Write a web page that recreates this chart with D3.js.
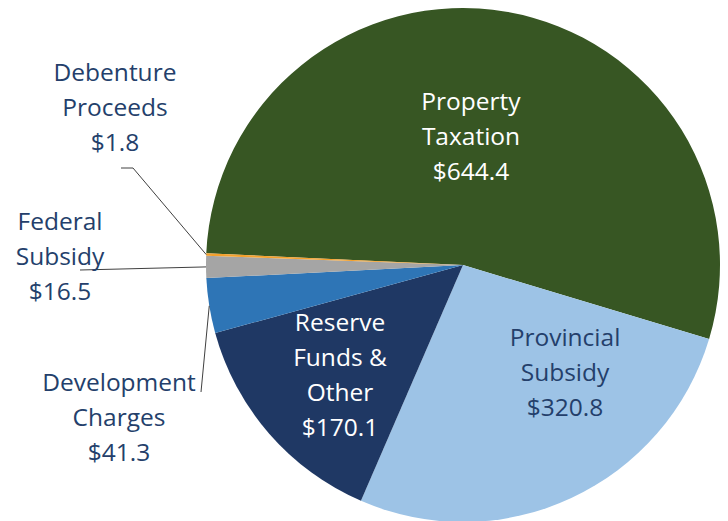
<!DOCTYPE html>
<html><head><meta charset="utf-8">
<script src="https://cdn.jsdelivr.net/npm/d3@7"></script>
<style>body{margin:0;background:#fff}svg{display:block}</style>
</head><body>
<svg id="chart" width="728" height="521"></svg>
<script>
const categories = ["Property Taxation","Provincial Subsidy","Reserve Funds & Other","Development Charges","Federal Subsidy","Debenture Proceeds"];
const values = [644.4, 320.8, 170.1, 41.3, 16.5, 1.8];
const labelLines = [["Property","Taxation","$644.4"],["Provincial","Subsidy","$320.8"],["Reserve","Funds &","Other","$170.1"],["Development","Charges","$41.3"],["Federal","Subsidy","$16.5"],["Debenture","Proceeds","$1.8"]];
const colors = ["#375623","#9DC3E6","#1F3864","#2E75B6","#A5A5A5","#F4A12D"];

// layout (separate from data)
const cx = 463, cy = 265, R = 257;
const startDeg = -87.4;
const labelPos = [
  {x:471, y:101, color:"#fff"},
  {x:565, y:337, color:"#243F6B"},
  {x:340, y:322, color:"#fff"},
  {x:119, y:382, color:"#243F6B"},
  {x:60,  y:221, color:"#243F6B"},
  {x:115, y:72,  color:"#243F6B"}
];
const lineH = 35;

const svg = d3.select("#chart");
const g = svg.append("g").attr("transform", `translate(${cx},${cy})`);
const pie = d3.pie().sort(null).value(d => d)
  .startAngle(startDeg*Math.PI/180).endAngle(startDeg*Math.PI/180 + 2*Math.PI);
const arcs = pie(values);
const arc = d3.arc().innerRadius(0).outerRadius(R);

g.selectAll("path.slice").data(arcs).enter().append("path")
  .attr("class","slice")
  .attr("d", arc)
  .attr("fill", (d,i) => colors[i]);

function edgePt(i){ const a = (arcs[i].startAngle+arcs[i].endAngle)/2; return [cx + R*Math.sin(a), cy - R*Math.cos(a)]; }
const leaders = [
  {i:5, pts:[[121,168],[133,168]]},
  {i:4, pts:[[80,270]]},
  {i:3, pts:[[201,392]]}
];
leaders.forEach(l => {
  const e = edgePt(l.i);
  const pts = l.pts.concat([[e[0], e[1]]]);
  svg.append("path").attr("d", d3.line()(pts)).attr("fill","none")
    .attr("stroke","#404040").attr("stroke-width",1);
});

labelLines.forEach((lines, i) => {
  const p = labelPos[i];
  const t = svg.append("text").attr("text-anchor","middle")
    .attr("font-family","'Open Sans', 'Noto Sans', sans-serif")
    .attr("font-size", 24.5).attr("fill", p.color);
  lines.forEach((s, k) => {
    t.append("tspan").attr("x", p.x).attr("y", p.y + k*lineH).attr("dy","0.35em").text(s);
  });
});
</script>
</body></html>
